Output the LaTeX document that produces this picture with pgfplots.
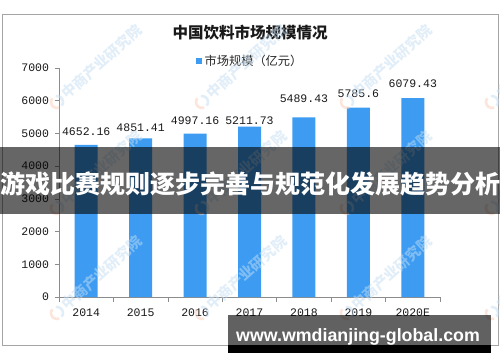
\documentclass[border=0pt]{standalone}
\usepackage{pgfplots}
\pgfplotsset{compat=1.18}
\usepackage{fontspec}
\newfontfamily\cjk{Noto Sans CJK SC}
\newfontfamily\numfont{Liberation Mono}
\newfontfamily\urlfont{Liberation Sans}
\definecolor{barblue}{RGB}{61,156,242}
\definecolor{axisgrey}{RGB}{140,140,140}
\definecolor{framegrey}{RGB}{165,165,165}
\definecolor{wmblue}{RGB}{196,222,243}
\definecolor{wmorange}{RGB}{250,205,185}
\begin{document}
\begin{tikzpicture}[x=1pt,y=1pt]
\path[use as bounding box] (0,0) rectangle (500,362);
\fill[white] (0,0) rectangle (500,362);
\draw[framegrey, line width=0.9pt] (2,348) rectangle (498,17);
% title and legend
\node[font=\cjk\bfseries\fontsize{15.5}{16}\selectfont, text=black!90] at (250,329) {中国饮料市场规模情况};
\fill[barblue] (196,298) rectangle (202,304);
\node[anchor=west, inner sep=0pt, font=\cjk\fontsize{12.2}{13}\selectfont, text=black!85] at (204.5,301) {市场规模（亿元）};
\begin{axis}[
  scale only axis, width=381pt, height=229pt,
  at={(59pt,65pt)}, anchor=south west,
  xmin=-0.5, xmax=6.5, ymin=0, ymax=7000,
  axis x line*=bottom, axis y line*=left,
  axis line style={draw=axisgrey, line width=0.8pt},
  tick align=outside,
  every tick/.style={draw=axisgrey, line width=0.7pt},
  xtick={-0.5,0.5,...,6.5}, xticklabels={},
  major tick length=4.5pt,
  extra x ticks={0,1,2,3,4,5,6},
  extra x tick labels={2014,2015,2016,2017,2018,2019,2020E},
  extra x tick style={major tick length=0pt, xticklabel style={yshift=-8pt}},
  ytick={0,1000,...,7000},
  scaled y ticks=false,
  /pgf/number format/assume math mode=true,
  /pgf/number format/1000 sep={},
  ticklabel style={font=\numfont\fontsize{11.5}{13}\selectfont, text=black!90},
  yticklabel style={xshift=-2pt},
  clip=false,
]
\addplot[ybar, bar width=23pt, fill=barblue, draw=none] coordinates {
  (0,4652.16) (1,4851.41) (2,4997.16) (3,5211.73) (4,5489.43) (5,5785.6) (6,6079.43)};
\addplot[only marks, mark=none,
  nodes near coords, point meta=explicit symbolic,
  every node near coord/.style={anchor=center, inner sep=0pt, font=\numfont\fontsize{11.5}{13}\selectfont, text=black!90}]
  table[meta=lab] {
x y lab
0 5044 4652.16
1 5166 4851.41
2 5380 4997.16
3 5380 5211.73
4 6052 5489.43
5 6205 5785.6
6 6511 6079.43
};
\end{axis}
% watermarks
\foreach \wx in {-88,57,202,347,492}{
  \foreach \wy in {260,154,49}{
    \begin{scope}[shift={(\wx,\wy)}, rotate=42, opacity=0.5]
      \draw[wmorange, line width=2.6pt] (0,0) ++(100:6) arc (100:250:6);
      \draw[wmblue, line width=2.6pt] (0,0) ++(-80:6) arc (-80:60:6);
      \node[transform shape, anchor=west, inner sep=0pt, text=wmblue, font=\cjk\bfseries\fontsize{14.5}{15}\selectfont] at (9,0) {中商产业研究院};
    \end{scope}
  }
}
% overlay banner
\fill[black, opacity=0.6] (0,148) rectangle (500,215);
\node[text=white, font=\cjk\bfseries\fontsize{25}{25}\selectfont, inner sep=0pt] at (250,178) {游戏比赛规则逐步完善与规范化发展趋势分析};
% bottom banner
\fill[black, opacity=0.62] (228,17) rectangle (491,47);
\fill[black] (228,9) rectangle (491,17);
\node[anchor=base, text=white, font=\urlfont\bfseries\fontsize{17.8}{18}\selectfont, inner sep=0pt] at (358,20.5) {www.wmdianjing-global.com};
\end{tikzpicture}
\end{document}
